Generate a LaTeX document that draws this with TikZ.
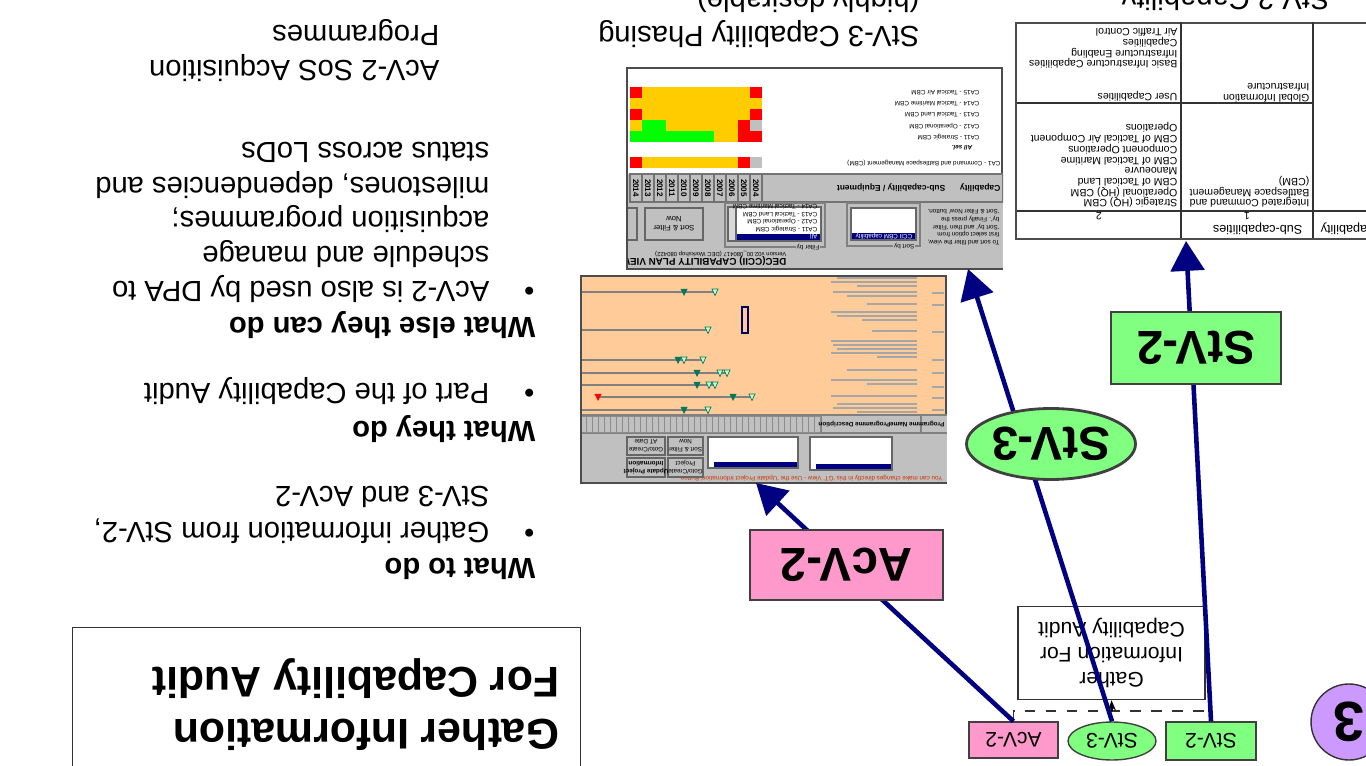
\documentclass[tikz,border=0pt]{standalone}
\usepackage{fontspec}
\setmainfont{Liberation Sans}
\usetikzlibrary{arrows.meta, shapes.geometric, calc}

\definecolor{linkNavy}{RGB}{0,0,128}
\definecolor{acvPink}{RGB}{255,153,204}
\definecolor{stvGreen}{RGB}{128,255,128}
\definecolor{badgePurple}{RGB}{204,153,255}
\definecolor{ganttPeach}{RGB}{255,204,153}
\definecolor{winGray}{RGB}{192,192,192}
\definecolor{selBlue}{RGB}{0,0,128}
\definecolor{cellg}{RGB}{192,192,192}
\definecolor{cellr}{RGB}{255,0,0}
\definecolor{celly}{RGB}{255,204,0}
\definecolor{cellG}{RGB}{0,255,0}
\definecolor{msDark}{RGB}{0,120,90}
\definecolor{msLight}{RGB}{200,255,210}
\definecolor{warnRed}{RGB}{204,51,0}

\begin{document}
\begin{tikzpicture}[
    notes/.style={inner sep=0pt, align=left, font=\fontsize{8.3}{9.9}\selectfont},
    notehead/.style={inner sep=0pt, font=\fontsize{8.3}{9.9}\selectfont\bfseries},
    bigtag/.style={draw=black!75, thick, fill=#1, inner sep=0pt, font=\fontsize{13.5}{16}\selectfont\bfseries},
    smalltag/.style={draw=black!75, fill=#1, inner sep=0pt, font=\fontsize{6}{7}\selectfont},
    link/.style={linkNavy, line width=1.3pt, -{Triangle[length=8.5pt, width=9.5pt]}},
    shot/.style={draw=black!70, line width=0.6pt, inner sep=0pt, anchor=south west},
    scr/.style={inner sep=0pt, align=left, font=\fontsize{1.8}{2.2}\selectfont},
    taxo/.style={inner sep=0pt, align=left, font=\fontsize{3.0}{3.05}\selectfont},
]
\useasboundingbox (0,0) rectangle (13.66,7.65);
\clip (0,0) rectangle (13.66,7.65);
\begin{scope}[rotate around={180:(6.83,3.825)}, transform shape]

    % StV-2 table screenshot
    \node[shot, fill=white, minimum width=3.70cm, minimum height=2.16cm] (stvtable) at (-0.21,0.22) {};
    \draw[black!80, line width=0.4pt] (0.53,0.22) -- (0.53,2.38) (1.85,0.22) -- (1.85,2.38)
        (0.53,1.03) -- (3.49,1.03) (-0.21,2.11) -- (3.49,2.11);
    \node[taxo, anchor=base east, font=\fontsize{3.6}{4}\selectfont] at (0.46,2.26) {Capability};
    \node[taxo, anchor=base west, font=\fontsize{3.6}{4}\selectfont] at (0.63,2.26) {Sub-capabilities};
    \node[taxo] at (1.19,2.16) {1};
    \node[taxo] at (2.67,2.16) {2};
    \node[taxo, anchor=base west] at (0.56,1.785) {Integrated Command and\\Battlespace Management\\(CBM)};
    \node[taxo, anchor=base west] at (1.88,1.249) {Strategic (HQ) CBM\\Operational (HQ) CBM\\CBM of Tactical Land\\Manoeuvre\\CBM of Tactical Maritime\\Component Operations\\CBM of Tactical Air Component\\Operations};
    \node[taxo, anchor=base west] at (0.56,0.833) {Global Information\\Infrastructure};
    \node[taxo, anchor=base west] at (1.88,0.94) {User Capabilities};
    \node[taxo, anchor=base west] at (1.88,0.288) {Basic Infrastructure Capabilities\\Infrastructure Enabling\\Capabilities\\Air Traffic Control};

    % StV-3 phasing screenshot
    \node[shot, fill=white, minimum width=3.75cm, minimum height=2.01cm] (phasing) at (3.63,0.67) {};
    \begin{scope}
        \clip (3.63,0.67) rectangle (7.38,2.68);
        \fill[winGray] (3.63,1.74) rectangle (7.38,2.68);
        \draw[black!55, line width=0.3pt] (3.63,1.74) rectangle (6.04,2.02);
        \foreach \yr [count=\i from 0] in {2004,...,2014} {
            \draw[black!55, line width=0.3pt] ({6.04+0.12*\i},1.74) rectangle ++(0.12,0.28);
            \node[scr, rotate=90, font=\fontsize{2.3}{2.5}\selectfont\bfseries] at ({6.10+0.12*\i},1.88) {\yr};
        }
        \node[scr, anchor=west, font=\fontsize{2.4}{2.6}\selectfont\bfseries] at (3.65,1.88) {Capability};
        \node[scr, anchor=west, font=\fontsize{2.4}{2.6}\selectfont\bfseries] at (4.20,1.88) {Sub-capability / Equipment};
        \node[scr, anchor=north west, font=\fontsize{2.8}{3}\selectfont\bfseries] at (5.79,2.665) {DEC(CCII) CAPABILITY PLAN VIEW};
        \node[scr, anchor=north west, font=\fontsize{1.7}{2}\selectfont] at (5.79,2.575) {Version v02.00\_080417 (DEC Workshop 080422)};
        \node[scr, anchor=north west] at (3.66,2.46) {To sort and filter the view,\\first select option from\\`Sort by' and then `Filter\\by'. Finally press the\\`Sort \& Filter Now' button.};
        % sort by
        \draw[black!50, line width=0.3pt] (4.46,2.03) rectangle (5.19,2.46);
        \node[scr, fill=winGray, anchor=west, inner xsep=0.3pt] at (4.50,2.46) {Sort by};
        \draw[black!60, fill=white, line width=0.3pt] (4.50,2.08) rectangle (5.15,2.40);
        \fill[selBlue] (4.51,2.33) rectangle (5.14,2.39);
        \node[scr, anchor=west, white] at (4.53,2.36) {CCII CBM capability};
        % filter by
        \draw[black!50, line width=0.3pt] (5.41,2.03) rectangle (6.41,2.47);
        \node[scr, fill=winGray, anchor=west, inner xsep=0.3pt] at (5.45,2.47) {Filter by};
        \draw[black!60, fill=white, line width=0.3pt] (5.45,2.07) rectangle (6.38,2.41);
        \draw[black!60, fill=winGray!60, line width=0.3pt] (6.30,2.07) rectangle (6.38,2.41);
        \fill[selBlue] (5.46,2.34) rectangle (6.29,2.40);
        \node[scr, anchor=west, white] at (5.48,2.37) {All};
        \node[scr, anchor=north west] at (5.48,2.33) {CA11 - Strategic CBM\\CA12 - Operational CBM\\CA13 - Tactical Land CBM\\CA14 - Tactical Maritime CBM};
        % buttons
        \draw[black!60, line width=0.3pt] (6.63,2.08) rectangle (7.21,2.40);
        \node[scr, align=center, font=\fontsize{2.2}{2.6}\selectfont] at (6.92,2.24) {Sort \& Filter\\Now};
        \draw[black!60, line width=0.3pt] (7.29,2.08) rectangle (7.60,2.40);
        % phasing cells
        \foreach \yy/\cells in {1.63/{g,r,y,y,y,y,y,y,y,y,r}, 1.37/{r,r,y,y,G,G,G,G,G,G,G},
                1.26/{g,r,y,y,y,y,y,y,G,G,y}, 1.15/{r,y,y,y,y,y,y,y,y,y,r},
                1.04/{y,y,y,y,y,y,y,y,y,y,y}, 0.93/{r,y,y,y,y,y,y,y,y,y,r}} {
            \foreach \c [count=\i from 0] in \cells
                \fill[fill=cell\c] ({6.04+0.12*\i},{\yy-0.055}) rectangle ++(0.12,0.11);
        }
        \node[scr, anchor=west] at (3.65,1.63) {CA1 - Command and Battlespace Management (CBM)};
        \node[scr, anchor=west, font=\fontsize{1.8}{2.2}\selectfont\bfseries\itshape] at (3.93,1.48) {All sel.};
        \node[scr, anchor=west] at (3.86,1.37) {CA11 - Strategic CBM};
        \node[scr, anchor=west] at (3.86,1.26) {CA12 - Operational CBM};
        \node[scr, anchor=west] at (3.86,1.15) {CA13 - Tactical Land CBM};
        \node[scr, anchor=west] at (3.86,1.04) {CA14 - Tactical Maritime CBM};
        \node[scr, anchor=west] at (3.86,0.93) {CA15 - Tactical Air CBM};
    \end{scope}

    % AcV-2 programme screenshot
    \node[shot, fill=ganttPeach, minimum width=3.65cm, minimum height=2.07cm] (gantt) at (4.19,2.75) {};
    \begin{scope}
        \clip (4.19,2.75) rectangle (7.84,4.82);
        \fill[winGray] (4.19,4.15) rectangle (7.84,4.82);
        \draw[black!50, line width=0.3pt] (4.19,4.15) -- (7.84,4.15) (4.19,4.33) -- (7.84,4.33)
            (4.45,4.15) -- (4.45,4.33) (5.45,4.15) -- (5.45,4.33);
        \foreach \i in {0,...,39}
            \draw[black!45, line width=0.2pt] ({5.46+0.06*\i},4.16) rectangle ++(0.06,0.16);
        \node[scr, anchor=west, font=\fontsize{1.8}{2.2}\selectfont\bfseries] at (4.21,4.24) {Programme Name};
        \node[scr, anchor=west, font=\fontsize{1.8}{2.2}\selectfont\bfseries] at (4.75,4.24) {Programme Description};
        \node[scr, anchor=west, warnRed] at (4.23,4.785) {You can make changes directly in this `GT' View - Use the `Update Project Information' Button};
        % list boxes
        \draw[black!60, fill=white, line width=0.3pt] (4.74,4.37) rectangle (5.56,4.70);
        \fill[selBlue] (4.75,4.64) rectangle (5.50,4.69);
        \draw[black!60, fill=white, line width=0.3pt] (5.68,4.37) rectangle (6.58,4.68);
        \fill[selBlue] (5.69,4.62) rectangle (6.52,4.67);
        % buttons
        \draw[black!60, line width=0.3pt] (6.63,4.37) rectangle (6.98,4.55) (6.63,4.58) rectangle (6.98,4.77)
            (7.01,4.37) rectangle (7.39,4.55) (7.01,4.58) rectangle (7.39,4.77);
        \node[scr, align=center] at (6.805,4.46) {Sort \& Filter\\Now};
        \node[scr, align=center] at (6.805,4.675) {Goto/Create\\Project};
        \node[scr, align=center] at (7.20,4.46) {Goto/Create\\AT Date};
        \node[scr, align=center, font=\fontsize{1.8}{2.2}\selectfont\bfseries] at (7.20,4.675) {Update Project\\Information};
        % description text
        \foreach \yy/\len in {2.78/0.80, 2.82/0.86, 2.86/0.60, 2.92/0.84, 2.96/0.70, 3.04/0.50,
                3.12/0.86, 3.16/0.80, 3.20/0.55, 3.31/0.45, 3.41/0.86, 3.45/0.84, 3.49/0.80,
                3.53/0.86, 3.57/0.40, 3.70/0.70, 3.80/0.86, 3.84/0.50, 3.96/0.86, 4.04/0.80,
                4.08/0.84, 4.12/0.60}
            \draw[black!35, line width=0.3pt] (4.49,\yy) -- ++(\len,0);
        \foreach \yy in {2.93,3.05,3.32,3.60,3.73,3.87,3.98,4.10}
            \draw[black!35, line width=0.3pt] (4.22,\yy) -- ++(0.12,0);
        % timelines
        \foreach \yy/\xa/\xb in {2.92/6.51/7.84, 3.30/6.58/7.84, 3.60/6.63/7.84, 3.73/6.39/7.84,
                3.85/6.51/7.84, 3.97/6.14/7.68, 4.10/6.58/7.84}
            \draw[black!50, line width=0.4pt] (\xa,\yy) -- (\xb,\yy);
        \draw[black!60!blue, line width=0.5pt] (6.18,3.07) rectangle (6.24,3.33);
        \foreach \mx/\my in {6.82/2.92, 6.88/3.60, 6.69/3.73, 6.69/3.85, 6.33/3.97, 6.82/4.10}
            \fill[msDark] (\mx-0.035,\my-0.03) -- (\mx+0.035,\my-0.03) -- (\mx,\my+0.04) -- cycle;
        \foreach \mx/\my in {6.51/2.92, 6.58/3.30, 6.82/3.60, 6.63/3.60, 6.46/3.73, 6.39/3.73,
                6.57/3.85, 6.51/3.85, 6.14/3.97, 6.58/4.10}
            \filldraw[fill=msLight, draw=msDark, line width=0.2pt] (\mx-0.03,\my-0.03) -- (\mx+0.03,\my-0.03) -- (\mx,\my+0.035) -- cycle;
        \fill[red] (7.645,3.94) -- (7.715,3.94) -- (7.68,4.01) -- cycle;
    \end{scope}

    % captions
    \node[notes, anchor=base west] (capPhase) at (4.46,-0.08) {StV-3 Capability Phasing\\(highly desirable)};
    \node[notes, anchor=base west] (capTable) at (0.36,-0.10) {StV-2 Capability};

    % notes column
    \node[notehead, anchor=base west] (todo) at (8.30,5.58) {What to do};
    \node[notes, anchor=base west] (dot1) at (8.31,5.23) {\textbullet};
    \node[notes, anchor=base west, font=\fontsize{8.3}{10.5}\selectfont] (todoText) at (8.76,4.86) {Gather information from StV-2,\\StV-3 and AcV-2};
    \node[notehead, anchor=base west] (they) at (8.30,4.21) {What they do};
    \node[notes, anchor=base west] (dot2) at (8.31,3.84) {\textbullet};
    \node[notes, anchor=base west] (theyText) at (8.76,3.84) {Part of the Capability Audit};
    \node[notehead, anchor=base west] (also) at (8.30,3.18) {What else they can do};
    \node[notes, anchor=base west] (dot3) at (8.31,2.82) {\textbullet};
    \node[notes, anchor=base west] (alsoText) at (8.76,1.424) {AcV-2 is also used by DPA to\\schedule and manage\\acquisition programmes;\\milestones, dependencies and\\status across LoDs};
    \node[notes, anchor=base west] (capAcq) at (9.26,0.26) {AcV-2 SoS Acquisition\\Programmes};

    % title box
    \node[draw=black!80, minimum width=5.08cm, minimum height=1.70cm, anchor=south west] (titleBox) at (7.85,6.27) {};
    \node[inner sep=0pt, align=left, anchor=base west, font=\fontsize{12.2}{14.9}\selectfont\bfseries] (title) at (8.06,6.675) {Gather Information\\For Capability Audit};

    % gather step
    \node[draw=black!80, fill=white, minimum width=1.87cm, minimum height=0.90cm, align=center, font=\fontsize{6}{7.1}\selectfont] (gather) at (2.545,6.53) {Gather\\Information For\\Capability Audit};
    \node[smalltag=acvPink, minimum width=0.89cm, minimum height=0.36cm] (sAcV) at (3.525,7.40) {AcV-2};
    \node[smalltag=stvGreen, ellipse, minimum width=0.88cm, minimum height=0.38cm] (sStV3) at (2.54,7.41) {StV-3};
    \node[smalltag=stvGreen, minimum width=0.90cm, minimum height=0.38cm] (sStV2) at (1.55,7.41) {StV-2};
    \draw[dashed, black!80, line width=0.5pt] (sAcV.south) -- ++(0,-0.10) coordinate (brkA) -| (sStV2.south);
    \coordinate (brk) at (sStV3.south |- brkA);
    \draw[-{Stealth[length=3pt]}, black, line width=0.5pt] (brk) -- (gather.north);

    % links to the screenshots
    \coordinate (tipB) at (6.10,4.83);
    \coordinate (tipA) at (3.98,2.69);
    \coordinate (tipC) at (1.80,2.41);
    \draw[link] (sAcV.south) -- (tipB);
    \draw[link] (sStV3.south) -- (tipA);
    \draw[link] (sStV2.south) -- (tipC);

    \node[bigtag=acvPink, minimum width=1.93cm, minimum height=0.70cm] (AcV) at (5.195,5.65) {AcV-2};
    \node[bigtag=stvGreen, ellipse, minimum width=1.69cm, minimum height=0.71cm] (StV3) at (3.15,4.44) {StV-3};
    \node[bigtag=stvGreen, minimum width=1.70cm, minimum height=0.72cm] (StV2) at (1.70,3.48) {StV-2};

    % step badge
    \node[circle, draw=black!80, fill=badgePurple, minimum size=0.76cm, inner sep=0pt, font=\fontsize{16}{16}\selectfont\bfseries] (badge) at (0.17,7.22) {3};

\end{scope}
\end{tikzpicture}
\end{document}
